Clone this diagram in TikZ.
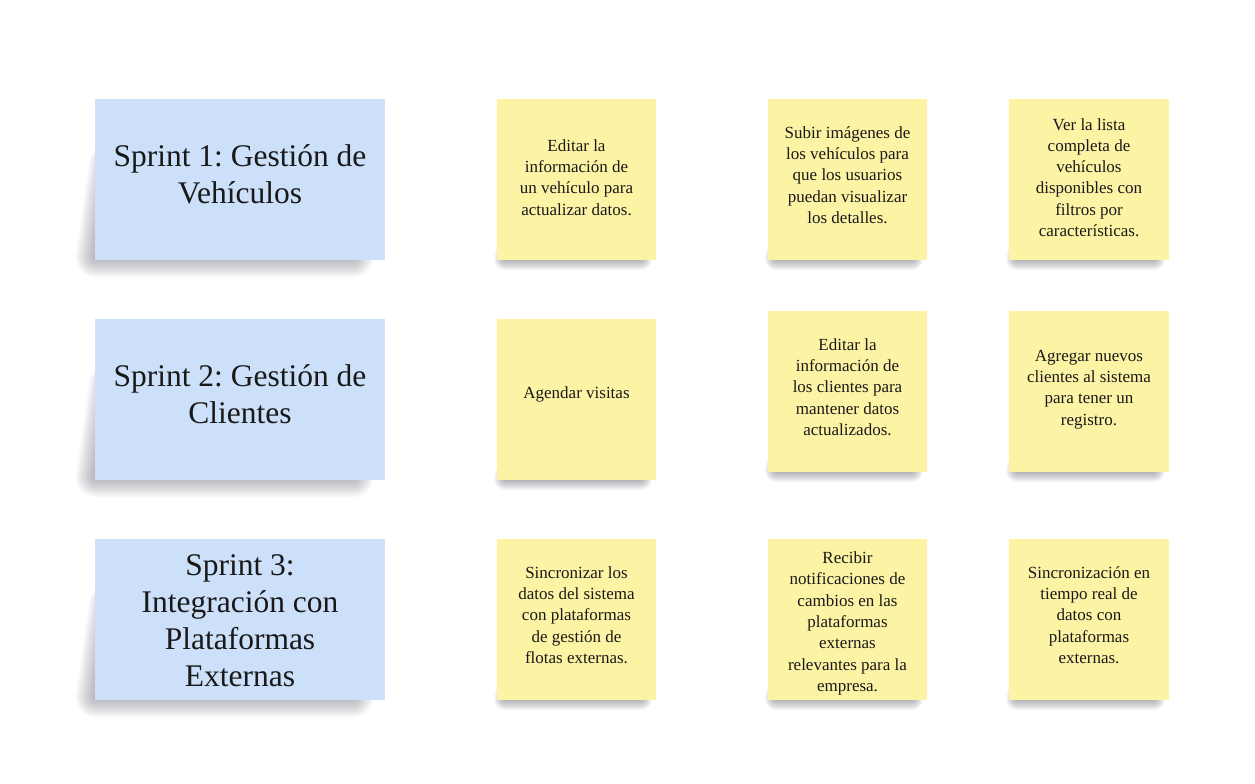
\documentclass[tikz,border=0pt]{standalone}
\usepackage{fontspec}
\setmainfont{Liberation Serif}
\frenchspacing
\definecolor{sprintblue}{RGB}{205,224,249}
\definecolor{noteyellow}{RGB}{253,243,164}
\definecolor{shadowgrey}{RGB}{60,60,80}
% soft shadow: stacked translucent strokes round a shape hidden under the card
\newcommand\softshadow[3]{%
  \foreach \k in {1,...,12} {\draw[shadowgrey, draw opacity=#3, line width={#2*\k/6*1pt}, line join=round] #1;}
}
\newcommand\mknote[6]{%
  \node[inner sep=0, draw=none, fill=#6, minimum width={#4-#2}, minimum height={#5-#3}] (#1) at ({(#2+#4)/2},{(#3+#5)/2}) {};
}
\newcommand\yshadow[4]{% x1 y1 x2 y2
  \softshadow{(#1+9,#4-6) -- (#1+8,#4-1) -- (#3-15,#4-1) -- (#3-15,#4-6) -- cycle}{11}{0.04}
}
\newcommand\bshadow[4]{% x1 y1 x2 y2
  \softshadow{(#1+14,#4-95) -- (#1+1,#4-3) -- (#3-32,#4-3) -- (#3-32,#4-12) -- cycle}{20}{0.035}
}
\begin{document}
\begin{tikzpicture}[x=1pt,y=-1pt,
  ttl/.style={align=center, font=\fontsize{31.5}{37}\selectfont, text=black!90},
  txt/.style={align=center, font=\fontsize{17}{21.3}\selectfont, text=black!90},
  ]
\fill[white] (0,0) rectangle (1255,784);
\useasboundingbox (0,0) rectangle (1255,784);

% shadows
\bshadow{95}{99}{385}{260}
\bshadow{95}{319}{385}{480}
\bshadow{95}{539}{385}{700}
\yshadow{497}{99}{656}{260}
\yshadow{768}{99}{927}{260}
\yshadow{1009}{99}{1169}{260}
\yshadow{497}{319}{656}{480}
\yshadow{768}{311}{927}{472}
\yshadow{1009}{311}{1169}{472}
\yshadow{497}{539}{656}{700}
\yshadow{768}{539}{927}{700}
\yshadow{1009}{539}{1169}{700}

% sprint cards
\mknote{s1}{95}{99}{385}{260}{sprintblue}
\mknote{s2}{95}{319}{385}{480}{sprintblue}
\mknote{s3}{95}{539}{385}{700}{sprintblue}

% row 1
\mknote{n11}{497}{99}{656}{260}{noteyellow}
\mknote{n12}{768}{99}{927}{260}{noteyellow}
\mknote{n13}{1009}{99}{1169}{260}{noteyellow}
% row 2
\mknote{n21}{497}{319}{656}{480}{noteyellow}
\mknote{n22}{768}{311}{927}{472}{noteyellow}
\mknote{n23}{1009}{311}{1169}{472}{noteyellow}
% row 3
\mknote{n31}{497}{539}{656}{700}{noteyellow}
\mknote{n32}{768}{539}{927}{700}{noteyellow}
\mknote{n33}{1009}{539}{1169}{700}{noteyellow}

% texts
\node[ttl] (ts1) at (240,174) {Sprint 1: Gestión de\\Vehículos};
\node[ttl] (ts2) at (240,394) {Sprint 2: Gestión de\\Clientes};
\node[ttl] (ts3) at (240,621) {Sprint 3:\\Integración con\\Plataformas\\Externas};

\node[txt] (t11) at (576.5,177.5) {Editar la\\información de\\un vehículo para\\actualizar datos.};
\node[txt] (t12) at (847.5,175) {Subir imágenes de\\los vehículos para\\que los usuarios\\puedan visualizar\\los detalles.};
\node[txt] (t13) at (1089,177.5) {Ver la lista\\completa de\\vehículos\\disponibles con\\filtros por\\características.};

\node[txt] (t21) at (576.5,394.5) {Agendar visitas};
\node[txt] (t22) at (847.5,387) {Editar la\\información de\\los clientes para\\mantener datos\\actualizados.};
\node[txt] (t23) at (1089,389.5) {Agregar nuevos\\clientes al sistema\\para tener un\\registro.};

\node[txt] (t31) at (576.5,615) {Sincronizar los\\datos del sistema\\con plataformas\\de gestión de\\flotas externas.};
\node[txt] (t32) at (847.5,623.5) {Recibir\\notificaciones de\\cambios en las\\plataformas\\externas\\relevantes para la\\empresa.};
\node[txt] (t33) at (1089,615) {Sincronización en\\tiempo real de\\datos con\\plataformas\\externas.};
\end{tikzpicture}
\end{document}
